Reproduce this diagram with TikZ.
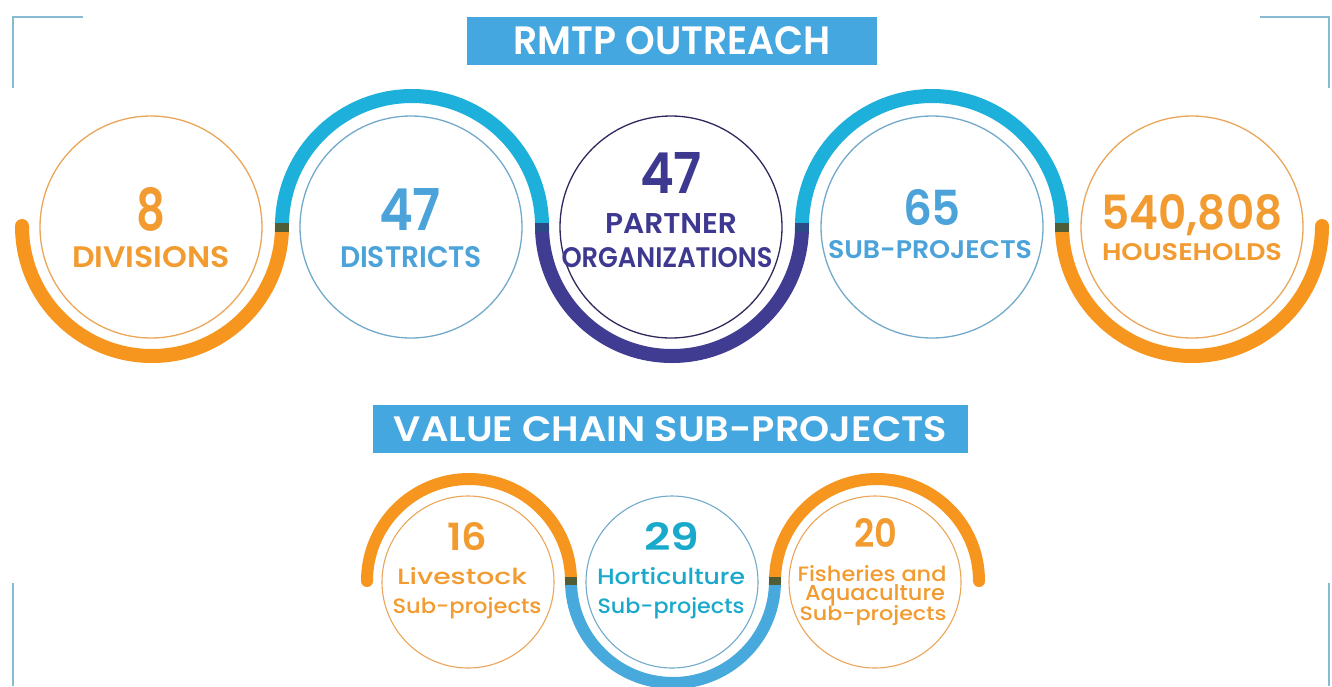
\documentclass[tikz,border=0pt]{standalone}
\usepackage{fontspec}
\setmainfont{Poppins}[BoldFont={Poppins SemiBold}]
\newfontfamily\medfont{Poppins Medium}
\usepackage{graphicx}
\definecolor{arcor}{HTML}{F7961E}
\definecolor{arccy}{HTML}{1DB0DA}
\definecolor{arcpu}{HTML}{403C92}
\definecolor{arcbl}{HTML}{48A9DD}
\definecolor{txor}{HTML}{F29B30}
\definecolor{txbl}{HTML}{4BA3D9}
\definecolor{txpu}{HTML}{3E3990}
\definecolor{txte}{HTML}{19A9CB}
\definecolor{rgor}{HTML}{EBA65A}
\definecolor{rgbl}{HTML}{72AACB}
\definecolor{rgpu}{HTML}{2E2A5E}
\definecolor{bann}{HTML}{45A7DF}
\definecolor{corn}{HTML}{86BCD2}
\definecolor{jol}{HTML}{4F5E36}
\definecolor{jbl}{HTML}{2C4A86}
\newcommand{\fitbox}[3]{\resizebox{#1pt}{#2pt}{\fontsize{30}{30}\selectfont\bfseries #3}}
\newcommand{\fitmed}[3]{\resizebox{#1pt}{#2pt}{\fontsize{30}{30}\selectfont\medfont #3}}
\begin{document}
\begin{tikzpicture}[x=1pt,y=-1pt,
  ring/.style={circle, draw=#1, line width=1.3pt, minimum size=222pt, inner sep=0pt},
  sring/.style={circle, draw=#1, line width=1.1pt, minimum size=172pt, inner sep=0pt},
  bigarc/.style={draw=#1, line width=14pt},
  smallarc/.style={draw=#1, line width=12pt},
  banner/.style={fill=bann, text=white, inner sep=0pt, minimum height=48pt},
  lbl/.style={anchor=base, inner sep=0pt, text=#1},
  corner/.style={draw=corn, line width=2.2pt}]
\useasboundingbox[fill=white] (0,0) rectangle (1332,686);

% corner brackets
\draw[corner] (13,88) -- (13,17) -- (83,17);
\draw[corner] (1260,17) -- (1329,17) -- (1329,88);
\draw[corner] (13,583) -- (13,686);
\draw[corner] (1329,583) -- (1329,686);

% banners
\node[banner, minimum width=410pt] (b1) at (672,41) {\fitbox{317}{28}{RMTP OUTREACH}};
\node[banner, minimum width=595pt] (b2) at (670.5,429) {\fitbox{553}{25}{VALUE CHAIN SUB-PROJECTS}};

% top rings
\node[ring=rgor] (c1) at (151,227) {};
\node[ring=rgbl] (c2) at (411,227) {};
\node[ring=rgpu] (c3) at (671,227) {};
\node[ring=rgbl] (c4) at (932,227) {};
\node[ring=rgor] (c5) at (1192,227) {};

% top arcs
\path[bigarc=arcor] (22,226) arc[start angle=180, end angle=0, radius=130];
\fill[arcor] (22,226) circle[radius=7];
\path[bigarc=arccy] (282,226) arc[start angle=180, end angle=360, radius=130];
\path[bigarc=arcpu] (542,226) arc[start angle=180, end angle=0, radius=130];
\path[bigarc=arccy] (802,226) arc[start angle=180, end angle=360, radius=130];
\path[bigarc=arcor] (1062,226) arc[start angle=180, end angle=0, radius=130];
\fill[arcor] (1322,226) circle[radius=7];
% junctions
\fill[jol] (275,223) rectangle (289,232);
\fill[jbl] (535,223) rectangle (549,232);
\fill[jbl] (795,223) rectangle (809,232);
\fill[jol] (1055,223) rectangle (1069,232);

% top labels
\node[lbl=txor] (n1a) at (151,230) {\fitbox{29}{43}{8}};
\node[lbl=txor] (n1b) at (151,267) {\fitbox{158}{21}{DIVISIONS}};
\node[lbl=txbl] (n2a) at (410,230) {\fitbox{62}{42}{47}};
\node[lbl=txbl] (n2b) at (411,267) {\fitbox{142}{21}{DISTRICTS}};
\node[lbl=txpu] (n3a) at (671,193) {\fitbox{62}{41}{47}};
\node[lbl=txpu] (n3b) at (671,233) {\fitbox{132}{20}{PARTNER}};
\node[lbl=txpu] (n3c) at (667,267) {\fitbox{211}{20}{ORGANIZATIONS}};
\node[lbl=txbl] (n4a) at (932,225) {\fitbox{58}{36}{65}};
\node[lbl=txbl] (n4b) at (930,258) {\fitbox{204}{18}{SUB-PROJECTS}};
\node[lbl=txor] (n5a) at (1192,229) {\fitbox{181}{35}{540,808}};
\node[lbl=txor] (n5b) at (1192,260) {\fitbox{180}{17}{HOUSEHOLDS}};

% bottom rings
\node[sring=rgor] (d1) at (468,582) {};
\node[sring=rgbl] (d2) at (672,582) {};
\node[sring=rgor] (d3) at (875,582) {};

% bottom arcs
\path[smallarc=arcor] (367,581) arc[start angle=180, end angle=360, radius=102];
\fill[arcor] (367,581) circle[radius=6];
\path[smallarc=arcbl] (571,581) arc[start angle=180, end angle=0, radius=102];
\path[smallarc=arcor] (775,581) arc[start angle=180, end angle=360, radius=102];
\fill[arcor] (979,581) circle[radius=6];
\fill[jol] (565,577) rectangle (577,585);
\fill[jol] (769,577) rectangle (781,585);

% bottom labels
\node[lbl=txor] (m1a) at (467,550) {\fitbox{40}{28}{16}};
\node[lbl=txor] (m1b) at (462,584) {\fitmed{130}{17}{Livestock}};
\node[lbl=txor] (m1c) at (467,613) {\fitmed{149}{16}{Sub-projects}};
\node[lbl=txte] (m2a) at (672,550) {\fitbox{55}{28}{29}};
\node[lbl=txte] (m2b) at (671,584) {\fitmed{148}{17}{Horticulture}};
\node[lbl=txte] (m2c) at (671,613) {\fitmed{147}{16}{Sub-projects}};
\node[lbl=txor] (m3a) at (876,547) {\fitbox{43}{29}{20}};
\node[lbl=txor] (m3b) at (872,581) {\fitmed{149}{16}{Fisheries and}};
\node[lbl=txor] (m3c) at (875,600) {\fitmed{140}{16}{Aquaculture}};
\node[lbl=txor] (m3d) at (873,620) {\fitmed{147}{15}{Sub-projects}};
\end{tikzpicture}
\end{document}
